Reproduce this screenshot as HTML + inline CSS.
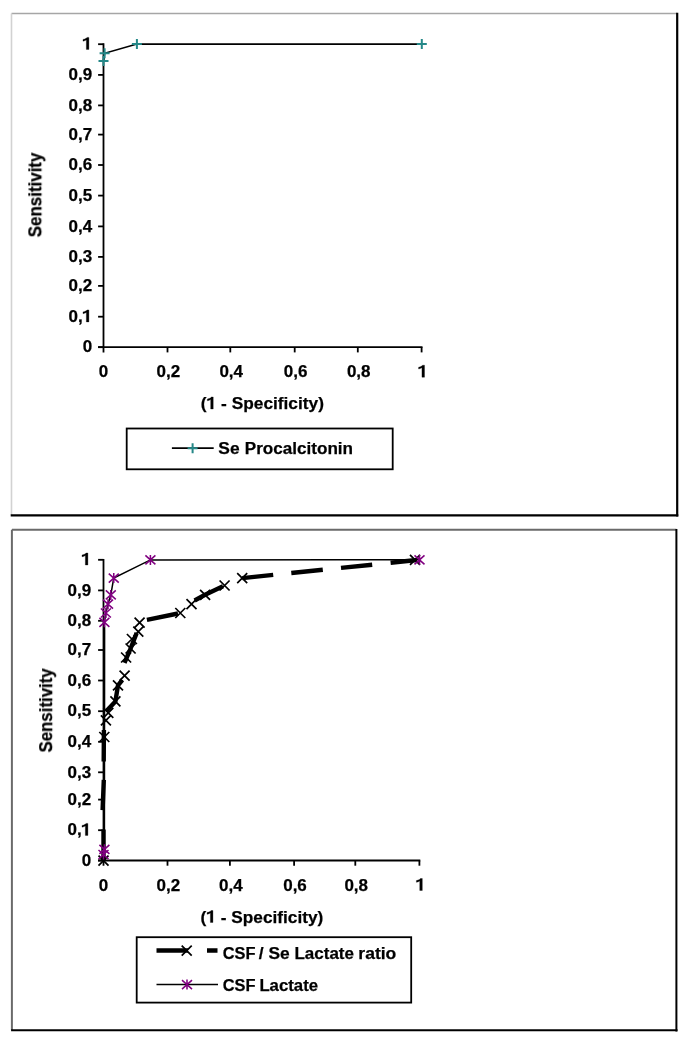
<!DOCTYPE html>
<html><head><meta charset="utf-8"><style>
html,body{margin:0;padding:0;background:#fff;overflow:hidden;}
svg{display:block;}
text{will-change:transform;}
text{font-family:"Liberation Sans", sans-serif;font-weight:bold;font-size:17px;fill:#000;stroke:#000;stroke-width:0.25px;}
</style></head><body>
<svg width="685" height="1041" viewBox="0 0 685 1041">
<rect width="685" height="1041" fill="#fff"/>
<line x1="11.5" y1="13.5" x2="677.2" y2="13.5" stroke="#a6a6a6" stroke-width="1.6"/>
<line x1="11.5" y1="13.5" x2="11.5" y2="515.3" stroke="#d2d2d2" stroke-width="1.6"/>
<line x1="677.2" y1="12.7" x2="677.2" y2="516.4" stroke="#000" stroke-width="2.2"/>
<line x1="10.7" y1="515.3" x2="678.3000000000001" y2="515.3" stroke="#000" stroke-width="2.2"/>
<line x1="11.9" y1="529.8" x2="676.4" y2="529.8" stroke="#6a6a6a" stroke-width="2.0"/>
<line x1="11.9" y1="529.8" x2="11.9" y2="1030.3" stroke="#6a6a6a" stroke-width="2.0"/>
<line x1="676.4" y1="529.0" x2="676.4" y2="1031.3999999999999" stroke="#000" stroke-width="2.0"/>
<line x1="11.1" y1="1030.3" x2="677.5" y2="1030.3" stroke="#000" stroke-width="2.0"/>
<line x1="103.5" y1="43.300000000000004" x2="103.5" y2="352.4" stroke="#000" stroke-width="1.8"/>
<line x1="98.0" y1="347.2" x2="422.5" y2="347.2" stroke="#000" stroke-width="1.8"/>
<line x1="98.1" y1="347.20" x2="103.5" y2="347.20" stroke="#000" stroke-width="1.8"/>
<text x="92.2" y="352.40" text-anchor="end">0</text>
<line x1="98.1" y1="316.70" x2="103.5" y2="316.70" stroke="#000" stroke-width="1.8"/>
<text x="82.75" y="321.90" text-anchor="end">0,</text>
<path d="M88.90 321.90 L88.90 309.90 L87.00 309.90 L86.10 310.80 L84.70 311.50 L83.00 311.90 L83.00 313.70 L84.50 313.30 L86.35 312.50 L86.35 321.90Z" fill="#000" stroke="#000" stroke-width="0.3"/>
<line x1="98.1" y1="285.90" x2="103.5" y2="285.90" stroke="#000" stroke-width="1.8"/>
<text x="92.2" y="291.10" text-anchor="end">0,2</text>
<line x1="98.1" y1="256.90" x2="103.5" y2="256.90" stroke="#000" stroke-width="1.8"/>
<text x="92.2" y="262.10" text-anchor="end">0,3</text>
<line x1="98.1" y1="226.40" x2="103.5" y2="226.40" stroke="#000" stroke-width="1.8"/>
<text x="92.2" y="231.60" text-anchor="end">0,4</text>
<line x1="98.1" y1="195.60" x2="103.5" y2="195.60" stroke="#000" stroke-width="1.8"/>
<text x="92.2" y="200.80" text-anchor="end">0,5</text>
<line x1="98.1" y1="165.00" x2="103.5" y2="165.00" stroke="#000" stroke-width="1.8"/>
<text x="92.2" y="170.20" text-anchor="end">0,6</text>
<line x1="98.1" y1="134.60" x2="103.5" y2="134.60" stroke="#000" stroke-width="1.8"/>
<text x="92.2" y="139.80" text-anchor="end">0,7</text>
<line x1="98.1" y1="105.40" x2="103.5" y2="105.40" stroke="#000" stroke-width="1.8"/>
<text x="92.2" y="110.60" text-anchor="end">0,8</text>
<line x1="98.1" y1="74.90" x2="103.5" y2="74.90" stroke="#000" stroke-width="1.8"/>
<text x="92.2" y="80.10" text-anchor="end">0,9</text>
<line x1="98.1" y1="44.20" x2="103.5" y2="44.20" stroke="#000" stroke-width="1.8"/>
<path d="M88.90 49.40 L88.90 37.40 L87.00 37.40 L86.10 38.30 L84.70 39.00 L83.00 39.40 L83.00 41.20 L84.50 40.80 L86.35 40.00 L86.35 49.40Z" fill="#000" stroke="#000" stroke-width="0.3"/>
<text x="103.60" y="377.2" text-anchor="middle">0</text>
<line x1="167.50" y1="347.2" x2="167.50" y2="352.4" stroke="#000" stroke-width="1.8"/>
<text x="168.40" y="377.2" text-anchor="middle">0,2</text>
<line x1="230.30" y1="347.2" x2="230.30" y2="352.4" stroke="#000" stroke-width="1.8"/>
<text x="231.20" y="377.2" text-anchor="middle">0,4</text>
<line x1="294.70" y1="347.2" x2="294.70" y2="352.4" stroke="#000" stroke-width="1.8"/>
<text x="295.60" y="377.2" text-anchor="middle">0,6</text>
<line x1="357.80" y1="347.2" x2="357.80" y2="352.4" stroke="#000" stroke-width="1.8"/>
<text x="358.70" y="377.2" text-anchor="middle">0,8</text>
<line x1="421.60" y1="347.2" x2="421.60" y2="352.4" stroke="#000" stroke-width="1.8"/>
<path d="M424.50 377.20 L424.50 365.20 L422.60 365.20 L421.70 366.10 L420.30 366.80 L418.60 367.20 L418.60 369.00 L420.10 368.60 L421.95 367.80 L421.95 377.20Z" fill="#000" stroke="#000" stroke-width="0.3"/>
<text transform="translate(41.3,237.29) rotate(-90)" style="font-size:18.3px" textLength="84.68" lengthAdjust="spacingAndGlyphs">Sensitivity</text>
<text x="200.83" y="409.00" style="font-size:17.4px">(</text>
<path d="M213.23 409.00 L213.23 397.00 L211.33 397.00 L210.43 397.90 L209.03 398.60 L207.33 399.00 L207.33 400.80 L208.83 400.40 L210.68 399.60 L210.68 409.00Z" fill="#000" stroke="#000" stroke-width="0.3"/>
<text x="216.30" y="409.0" style="font-size:17.4px" textLength="107.62" lengthAdjust="spacingAndGlyphs" xml:space="preserve"> - Specificity)</text>
<line x1="103.5" y1="558.9" x2="103.5" y2="865.7" stroke="#000" stroke-width="1.8"/>
<line x1="98.0" y1="860.5" x2="420.29999999999995" y2="860.5" stroke="#000" stroke-width="1.8"/>
<line x1="98.1" y1="860.50" x2="103.5" y2="860.50" stroke="#000" stroke-width="1.8"/>
<text x="91.2" y="865.70" text-anchor="end">0</text>
<line x1="98.1" y1="830.20" x2="103.5" y2="830.20" stroke="#000" stroke-width="1.8"/>
<text x="81.75" y="835.40" text-anchor="end">0,</text>
<path d="M87.90 835.40 L87.90 823.40 L86.00 823.40 L85.10 824.30 L83.70 825.00 L82.00 825.40 L82.00 827.20 L83.50 826.80 L85.35 826.00 L85.35 835.40Z" fill="#000" stroke="#000" stroke-width="0.3"/>
<line x1="98.1" y1="799.60" x2="103.5" y2="799.60" stroke="#000" stroke-width="1.8"/>
<text x="91.2" y="804.80" text-anchor="end">0,2</text>
<line x1="98.1" y1="772.30" x2="103.5" y2="772.30" stroke="#000" stroke-width="1.8"/>
<text x="91.2" y="777.50" text-anchor="end">0,3</text>
<line x1="98.1" y1="741.80" x2="103.5" y2="741.80" stroke="#000" stroke-width="1.8"/>
<text x="91.2" y="747.00" text-anchor="end">0,4</text>
<line x1="98.1" y1="711.20" x2="103.5" y2="711.20" stroke="#000" stroke-width="1.8"/>
<text x="91.2" y="716.40" text-anchor="end">0,5</text>
<line x1="98.1" y1="680.50" x2="103.5" y2="680.50" stroke="#000" stroke-width="1.8"/>
<text x="91.2" y="685.70" text-anchor="end">0,6</text>
<line x1="98.1" y1="650.00" x2="103.5" y2="650.00" stroke="#000" stroke-width="1.8"/>
<text x="91.2" y="655.20" text-anchor="end">0,7</text>
<line x1="98.1" y1="620.80" x2="103.5" y2="620.80" stroke="#000" stroke-width="1.8"/>
<text x="91.2" y="626.00" text-anchor="end">0,8</text>
<line x1="98.1" y1="590.40" x2="103.5" y2="590.40" stroke="#000" stroke-width="1.8"/>
<text x="91.2" y="595.60" text-anchor="end">0,9</text>
<line x1="98.1" y1="559.80" x2="103.5" y2="559.80" stroke="#000" stroke-width="1.8"/>
<path d="M87.90 565.00 L87.90 553.00 L86.00 553.00 L85.10 553.90 L83.70 554.60 L82.00 555.00 L82.00 556.80 L83.50 556.40 L85.35 555.60 L85.35 565.00Z" fill="#000" stroke="#000" stroke-width="0.3"/>
<text x="103.60" y="890.5" text-anchor="middle">0</text>
<line x1="167.50" y1="860.5" x2="167.50" y2="865.7" stroke="#000" stroke-width="1.8"/>
<text x="168.40" y="890.5" text-anchor="middle">0,2</text>
<line x1="229.90" y1="860.5" x2="229.90" y2="865.7" stroke="#000" stroke-width="1.8"/>
<text x="230.80" y="890.5" text-anchor="middle">0,4</text>
<line x1="294.10" y1="860.5" x2="294.10" y2="865.7" stroke="#000" stroke-width="1.8"/>
<text x="295.00" y="890.5" text-anchor="middle">0,6</text>
<line x1="355.30" y1="860.5" x2="355.30" y2="865.7" stroke="#000" stroke-width="1.8"/>
<text x="356.20" y="890.5" text-anchor="middle">0,8</text>
<line x1="419.40" y1="860.5" x2="419.40" y2="865.7" stroke="#000" stroke-width="1.8"/>
<path d="M422.30 890.50 L422.30 878.50 L420.40 878.50 L419.50 879.40 L418.10 880.10 L416.40 880.50 L416.40 882.30 L417.90 881.90 L419.75 881.10 L419.75 890.50Z" fill="#000" stroke="#000" stroke-width="0.3"/>
<text transform="translate(52.1,752.48) rotate(-90)" style="font-size:18.3px" textLength="84.18" lengthAdjust="spacingAndGlyphs">Sensitivity</text>
<text x="200.53" y="922.50" style="font-size:17.4px">(</text>
<path d="M212.93 922.50 L212.93 910.50 L211.03 910.50 L210.13 911.40 L208.73 912.10 L207.03 912.50 L207.03 914.30 L208.53 913.90 L210.38 913.10 L210.38 922.50Z" fill="#000" stroke="#000" stroke-width="0.3"/>
<text x="216.00" y="922.5" style="font-size:17.4px" textLength="107.30" lengthAdjust="spacingAndGlyphs" xml:space="preserve"> - Specificity)</text>
<path d="M103.50 61.00 L104.60 53.30 L136.90 44.00 L421.80 44.10" stroke="#000" stroke-width="1.7" fill="none"/>
<path d="M98.50 61.00H108.50M103.50 56.00V66.00" stroke="#258888" stroke-width="2.0" fill="none"/>
<path d="M99.60 53.30H109.60M104.60 48.30V58.30" stroke="#258888" stroke-width="2.0" fill="none"/>
<path d="M131.90 44.00H141.90M136.90 39.00V49.00" stroke="#258888" stroke-width="2.0" fill="none"/>
<path d="M416.80 44.10H426.80M421.80 39.10V49.10" stroke="#258888" stroke-width="2.0" fill="none"/>
<path d="M103.50 860.50 L103.50 829.40M102.60 810.10 L103.80 779.90M103.70 761.60 L103.90 730.00M106.20 711.20 L115.40 701.40 L118.00 685.30 L122.30 680.00M124.50 662.80 L130.60 648.50 L136.70 632.90M146.90 619.90 L178.00 613.50M194.60 600.50 L205.10 594.80 L223.00 586.20M242.30 578.10 L273.20 574.90M291.30 573.00 L322.80 569.80M341.00 567.90 L372.20 564.70M390.60 562.80 L416.90 560.00" stroke="#000" stroke-width="4.4" fill="none" stroke-linejoin="round"/>
<path d="M98.50 855.60L108.50 865.60M98.50 865.60L108.50 855.60" stroke="#000" stroke-width="1.7" fill="none"/>
<path d="M99.30 732.00L109.30 742.00M99.30 742.00L109.30 732.00" stroke="#000" stroke-width="1.7" fill="none"/>
<path d="M100.90 715.40L110.90 725.40M100.90 725.40L110.90 715.40" stroke="#000" stroke-width="1.7" fill="none"/>
<path d="M103.30 707.80L113.30 717.80M103.30 717.80L113.30 707.80" stroke="#000" stroke-width="1.7" fill="none"/>
<path d="M110.40 696.40L120.40 706.40M110.40 706.40L120.40 696.40" stroke="#000" stroke-width="1.7" fill="none"/>
<path d="M113.00 680.30L123.00 690.30M113.00 690.30L123.00 680.30" stroke="#000" stroke-width="1.7" fill="none"/>
<path d="M119.60 670.70L129.60 680.70M119.60 680.70L129.60 670.70" stroke="#000" stroke-width="1.7" fill="none"/>
<path d="M121.10 652.50L131.10 662.50M121.10 662.50L131.10 652.50" stroke="#000" stroke-width="1.7" fill="none"/>
<path d="M125.60 643.50L135.60 653.50M125.60 653.50L135.60 643.50" stroke="#000" stroke-width="1.7" fill="none"/>
<path d="M126.90 634.00L136.90 644.00M126.90 644.00L136.90 634.00" stroke="#000" stroke-width="1.7" fill="none"/>
<path d="M133.30 626.60L143.30 636.60M133.30 636.60L143.30 626.60" stroke="#000" stroke-width="1.7" fill="none"/>
<path d="M134.60 617.60L144.60 627.60M134.60 627.60L144.60 617.60" stroke="#000" stroke-width="1.7" fill="none"/>
<path d="M175.30 608.00L185.30 618.00M175.30 618.00L185.30 608.00" stroke="#000" stroke-width="1.7" fill="none"/>
<path d="M186.50 599.10L196.50 609.10M186.50 609.10L196.50 599.10" stroke="#000" stroke-width="1.7" fill="none"/>
<path d="M200.10 589.80L210.10 599.80M200.10 599.80L210.10 589.80" stroke="#000" stroke-width="1.7" fill="none"/>
<path d="M219.60 580.50L229.60 590.50M219.60 590.50L229.60 580.50" stroke="#000" stroke-width="1.7" fill="none"/>
<path d="M237.20 573.10L247.20 583.10M237.20 583.10L247.20 573.10" stroke="#000" stroke-width="1.7" fill="none"/>
<path d="M410.00 554.80L420.00 564.80M410.00 564.80L420.00 554.80" stroke="#000" stroke-width="1.7" fill="none"/>
<path d="M103.50 854.50 L104.40 849.30 L104.60 630.00 L104.40 622.30 L105.90 613.00 L108.00 604.20 L110.80 594.90 L113.75 578.10 L150.40 559.90 L419.50 559.80" stroke="#000" stroke-width="1.5" fill="none"/>
<path d="M98.50 850.00L108.50 859.00M98.50 859.00L108.50 850.00M103.50 849.50V859.50" stroke="#800080" stroke-width="1.55" fill="none"/>
<path d="M99.40 844.80L109.40 853.80M99.40 853.80L109.40 844.80M104.40 844.30V854.30" stroke="#800080" stroke-width="1.55" fill="none"/>
<path d="M99.40 617.80L109.40 626.80M99.40 626.80L109.40 617.80M104.40 617.30V627.30" stroke="#800080" stroke-width="1.55" fill="none"/>
<path d="M100.90 608.50L110.90 617.50M100.90 617.50L110.90 608.50M105.90 608.00V618.00" stroke="#800080" stroke-width="1.55" fill="none"/>
<path d="M103.00 599.70L113.00 608.70M103.00 608.70L113.00 599.70M108.00 599.20V609.20" stroke="#800080" stroke-width="1.55" fill="none"/>
<path d="M105.80 590.40L115.80 599.40M105.80 599.40L115.80 590.40M110.80 589.90V599.90" stroke="#800080" stroke-width="1.55" fill="none"/>
<path d="M108.75 573.60L118.75 582.60M108.75 582.60L118.75 573.60M113.75 573.10V583.10" stroke="#800080" stroke-width="1.55" fill="none"/>
<path d="M145.40 555.40L155.40 564.40M145.40 564.40L155.40 555.40M150.40 554.90V564.90" stroke="#800080" stroke-width="1.55" fill="none"/>
<path d="M414.50 555.30L424.50 564.30M414.50 564.30L424.50 555.30M419.50 554.80V564.80" stroke="#800080" stroke-width="1.55" fill="none"/>
<rect x="126.7" y="428.5" width="266" height="40.8" fill="none" stroke="#000" stroke-width="1.8"/>
<line x1="171.9" y1="448.2" x2="213.7" y2="448.2" stroke="#000" stroke-width="1.7"/>
<path d="M187.60 448.20H197.60M192.60 443.20V453.20" stroke="#258888" stroke-width="2.0" fill="none"/>
<text x="218.30" y="454.00" style="font-size:17.4px">Se</text>
<text x="244.76" y="454.00" style="font-size:17.4px" textLength="108.30" lengthAdjust="spacingAndGlyphs">Procalcitonin</text>
<rect x="136.7" y="937.2" width="274.5" height="65.4" fill="none" stroke="#000" stroke-width="1.8"/>
<path d="M156.5 950.5H188M207 950.5H217.5" stroke="#000" stroke-width="4.4"/>
<path d="M181.70 945.70L191.70 955.70M181.70 955.70L191.70 945.70" stroke="#000" stroke-width="1.7" fill="none"/>
<line x1="156.5" y1="984.6" x2="218" y2="984.6" stroke="#000" stroke-width="1.5"/>
<path d="M182.00 980.10L192.00 989.10M182.00 989.10L192.00 980.10M187.00 979.60V989.60" stroke="#800080" stroke-width="1.55" fill="none"/>
<text x="222.73" y="958.80" style="font-size:17.4px" textLength="32.77" lengthAdjust="spacingAndGlyphs">CSF</text>
<text x="258.73" y="958.80" style="font-size:17.4px">/</text>
<text x="268.50" y="958.80" style="font-size:17.4px">Se</text>
<text x="294.46" y="958.80" style="font-size:17.4px" textLength="59.52" lengthAdjust="spacingAndGlyphs">Lactate</text>
<text x="358.35" y="958.80" style="font-size:17.4px" textLength="37.94" lengthAdjust="spacingAndGlyphs">ratio</text>
<text x="222.73" y="990.50" style="font-size:17.4px" textLength="32.77" lengthAdjust="spacingAndGlyphs">CSF</text>
<text x="259.38" y="990.50" style="font-size:17.4px" textLength="58.69" lengthAdjust="spacingAndGlyphs">Lactate</text>
</svg>
</body></html>
